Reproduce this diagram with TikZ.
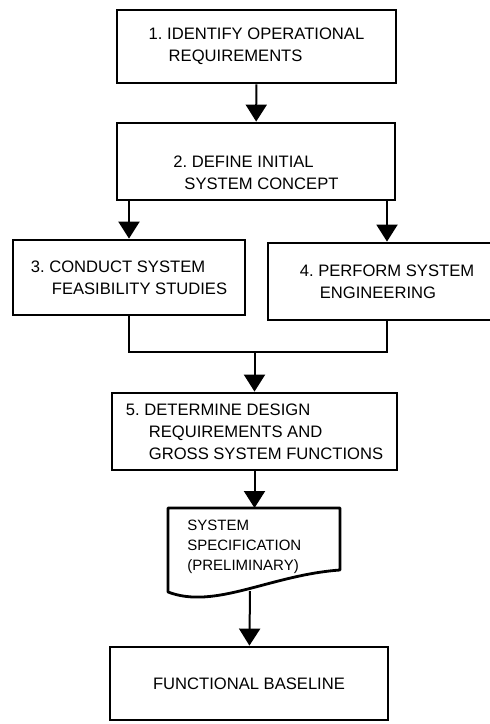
\documentclass[tikz,border=0pt]{standalone}
\usepackage{fontspec}
\setmainfont{Liberation Sans}
\usetikzlibrary{arrows.meta}

\begin{document}
\begin{tikzpicture}[
    x=0.5pt, y=-0.5pt,
    stage/.style={draw, line width=1.4pt, rectangle, align=left,
        font=\fontsize{8.3}{11}\selectfont},
    doc text/.style={align=left, inner sep=0pt, anchor=north west,
        font=\fontsize{7.5}{10}\selectfont},
    flow/.style={line width=1pt, -{Triangle[width=10.5pt,length=8.5pt]}},
    join line/.style={line width=1pt},
    outline/.style={line width=1.4pt, line join=round}
    ]
    \useasboundingbox (0,0) rectangle (489,724);
    % Stages
    \node[stage, minimum width=139.5pt, minimum height=36.5pt] (req)
        at (256.5,46.5) {1.\ IDENTIFY OPERATIONAL\\\hspace*{10pt}REQUIREMENTS};
    \node[stage, minimum width=139pt, minimum height=38.5pt] (concept)
        at (256,161.5) {\rule{0pt}{17pt}2.\ DEFINE INITIAL\\\hspace*{5.5pt}SYSTEM CONCEPT};
    \node[stage, minimum width=116pt, minimum height=37.5pt] (feas)
        at (129,277.5) {3.\ CONDUCT SYSTEM\\\hspace*{10.5pt}FEASIBILITY STUDIES};
    \node[stage, minimum width=119pt, minimum height=38.5pt] (eng)
        at (387,281.5) {4.\ PERFORM SYSTEM\\\hspace*{10pt}ENGINEERING};
    \node[stage, minimum width=142.5pt, minimum height=38.5pt] (design)
        at (254.5,431.5) {5.\ DETERMINE DESIGN\\\hspace*{11.5pt}REQUIREMENTS AND\\
        \hspace*{11.5pt}GROSS SYSTEM FUNCTIONS};
    \node[stage, minimum width=139pt, minimum height=36.5pt] (baseline)
        at (249,683.5) {FUNCTIONAL BASELINE};
    % Document symbol
    \draw[outline] (168,508) -- (340,508) -- (340,570)
        .. controls (270,575) and (215,610) .. (168,592) -- cycle;
    \coordinate (spectop) at (254.5,508);
    \coordinate (specbot) at (250,591);
    \node[doc text] (spec) at (187,520)
        {SYSTEM\\SPECIFICATION\\(PRELIMINARY)};
    % Connectors
    \draw[flow] (req) -- (concept);
    \draw[flow] (concept.south -| feas) -- (feas);
    \draw[flow] (concept.south -| eng) -- (eng);
    \coordinate (join) at (254.5,352);
    \draw[join line] (feas.south) -- (feas.south |- join)
        -- (eng.south |- join) -- (eng.south);
    \draw[flow] (join) -- (design);
    \draw[flow] (design) -- (spectop);
    \draw[flow] (specbot) -- (baseline);
\end{tikzpicture}
\end{document}
